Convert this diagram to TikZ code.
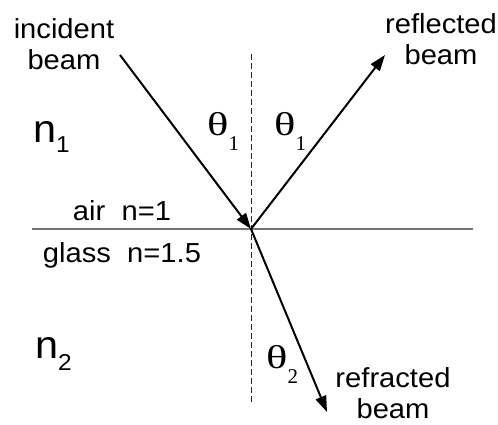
\documentclass[tikz,border=0pt]{standalone}
\usepackage{fontspec}
\setmainfont[FakeStretch=1.06]{Liberation Sans}
\newfontfamily\grfont{Liberation Serif}
\usetikzlibrary{arrows.meta}
\begin{document}
\begin{tikzpicture}[x=1pt,y=-1pt,
  beam/.style={line width=2pt,-{Triangle[length=16pt,width=11pt]}},
  normalline/.style={line width=1pt,dash pattern=on 6pt off 3pt,black!85},
  surface/.style={line width=1.6pt,black!55},
  lbl/.style={font=\fontsize{27.5}{31}\selectfont,inner sep=0pt,align=center},
  idx/.style={inner sep=0pt,anchor=base west},
  ang/.style={inner sep=0pt,anchor=base west}]
\useasboundingbox (0,0) rectangle (498,424);
\fill[white] (0,0) rectangle (498,424);
% geometry
\coordinate (O) at (251,229);
\coordinate (inc) at (120,55);
\coordinate (refl) at (385,55);
\coordinate (refr) at (327,412);
\coordinate (ntop) at (251,54);
\coordinate (nbot) at (251,402);
\coordinate (sl) at (32,229);
\coordinate (sr) at (473,229);
% lines
\draw[surface] (sl) -- (sr);
\draw[normalline] (ntop) -- (nbot);
\draw[beam] (inc) -- (O);
\draw[beam] (O) -- (refl);
\draw[beam] (O) -- (refr);
% labels
\node[lbl] (tinc) at (64,44) {incident\\beam};
\node[lbl] (trefl) at (441,39) {reflected\\beam};
\node[lbl] (trefr) at (393,393) {refracted\\beam};
\node[lbl,anchor=base] (tair) at (122,220) {air\ \ n=1};
\node[lbl,anchor=base] (tglass) at (122,262) {glass\ \ n=1.5};
\node[idx] (n1) at (33,142) {\fontsize{39}{39}\selectfont n\raisebox{-10pt}{\fontsize{23}{23}\selectfont 1}};
\node[idx] (n2) at (35,358) {\fontsize{39}{39}\selectfont n\raisebox{-12pt}{\fontsize{23}{23}\selectfont 2}};
\node[ang] (th1a) at (207,135) {\grfont\fontsize{33}{33}\selectfont\scalebox{1.35}[1]{θ}\raisebox{-15pt}{\fontsize{21}{21}\selectfont 1}};
\node[ang] (th1b) at (274,135) {\grfont\fontsize{33}{33}\selectfont\scalebox{1.35}[1]{θ}\raisebox{-15pt}{\fontsize{21}{21}\selectfont 1}};
\node[ang] (th2) at (266,368) {\grfont\fontsize{33}{33}\selectfont\scalebox{1.35}[1]{θ}\raisebox{-15pt}{\fontsize{21}{21}\selectfont 2}};
\end{tikzpicture}
\end{document}
